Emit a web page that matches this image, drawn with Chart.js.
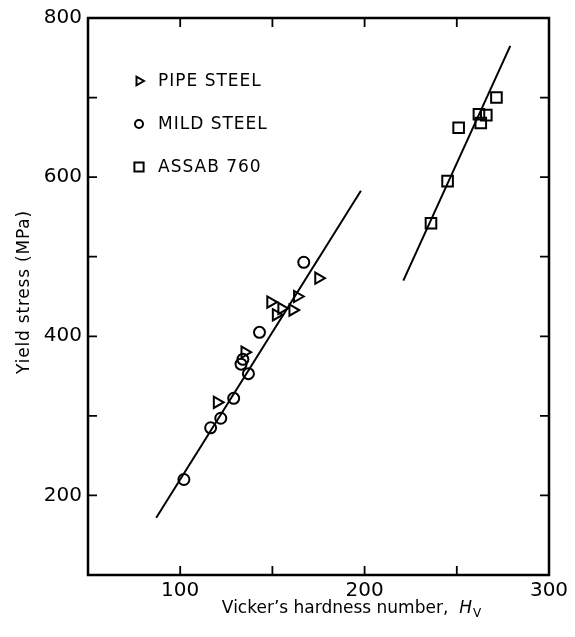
<!DOCTYPE html>
<html>
<head>
<meta charset="utf-8">
<script src="https://cdn.jsdelivr.net/npm/chart.js@4.4.1/dist/chart.umd.min.js"></script>
<style>
  html, body { margin: 0; padding: 0; background: #fff; }
  #wrap { width: 575px; height: 637px; }
</style>
</head>
<body>
<div id="wrap"><canvas id="hardnessChart"></canvas></div>
<script>
// values
const pipeHardness = [175, 163.5, 149, 155, 161, 152, 135, 120];
const pipeStress   = [473, 450, 443, 435, 433, 427, 380, 317];

const mildHardness = [167, 143, 133, 134, 137, 129, 122, 116.5, 102];
const mildStress   = [493, 405, 365, 371, 353, 322, 297, 285, 220];

const assabHardness = [271.5, 262, 266, 263, 251, 245, 236];
const assabStress   = [700, 679, 678, 668, 662, 595, 542];

// fitted lines (end points)
const fitLowHardness  = [87, 198];
const fitLowStress    = [172, 583];
const fitHighHardness = [221, 279];
const fitHighStress   = [470, 765];

const xTickMarks = [100, 150, 200, 250];
const yTickMarks = [200, 300, 400, 500, 600, 700];
const xLabels = [100, 200, 300];
const yLabels = [200, 400, 600, 800];

const legendItems = [
  { text: 'PIPE STEEL', pointStyle: 'triangle', radius: 5, rotation: 90 },
  { text: 'MILD STEEL', pointStyle: 'circle', radius: 4, rotation: 0 },
  { text: 'ASSAB 760', pointStyle: 'rect', radius: 6.5, rotation: 0 }
];

function toPoints(xs, ys) {
  return xs.map((x, i) => ({ x: x, y: ys[i] }));
}

const FONT = '"DejaVu Sans", sans-serif';

const framePlugin = {
  id: 'frame',
  afterDraw(chart) {
    const { ctx, chartArea: a, scales } = chart;
    const x = scales.x, y = scales.y;
    ctx.save();
    ctx.strokeStyle = '#000';
    ctx.lineWidth = 2.5;
    ctx.strokeRect(a.left, a.top, a.right - a.left, a.bottom - a.top);

    // inward ticks on all four sides
    ctx.lineWidth = 1.8;
    ctx.beginPath();
    xTickMarks.forEach(v => {
      const px = x.getPixelForValue(v);
      ctx.moveTo(px, a.bottom); ctx.lineTo(px, a.bottom - 9);
      ctx.moveTo(px, a.top); ctx.lineTo(px, a.top + 9);
    });
    yTickMarks.forEach(v => {
      const py = y.getPixelForValue(v);
      ctx.moveTo(a.left, py); ctx.lineTo(a.left + 9, py);
      ctx.moveTo(a.right, py); ctx.lineTo(a.right - 9, py);
    });
    ctx.stroke();

    // legend inside the plot
    ctx.fillStyle = '#000';
    ctx.textBaseline = 'middle';
    ctx.textAlign = 'left';
    ctx.font = '17px ' + FONT;
    ctx.letterSpacing = '1px';
    const rows = [81, 124, 167];
    legendItems.forEach((item, i) => {
      ctx.save();
      ctx.strokeStyle = '#000';
      ctx.fillStyle = 'rgba(0,0,0,0)';
      ctx.lineWidth = 2;
      Chart.helpers.drawPoint(ctx, {
        pointStyle: item.pointStyle,
        radius: item.radius,
        rotation: item.rotation,
        borderWidth: 2
      }, 139, rows[i]);
      ctx.restore();
      ctx.fillText(item.text, 158, rows[i] + 1);
    });
    ctx.letterSpacing = '0px';

    // y axis title
    ctx.save();
    ctx.translate(25, 292);
    ctx.rotate(-Math.PI / 2);
    ctx.textAlign = 'center';
    ctx.font = '17px ' + FONT;
    ctx.letterSpacing = '0.8px';
    ctx.fillText('Yield stress (MPa)', 0, 0);
    ctx.restore();

    // x axis title with italic H and subscript v
    const main = 'Vicker\u2019s hardness number,  ';
    ctx.font = '17px ' + FONT;
    const w1 = ctx.measureText(main).width;
    ctx.font = 'italic 17px ' + FONT;
    const w2 = ctx.measureText('H').width;
    ctx.font = '12px ' + FONT;
    const w3 = ctx.measureText('V').width;
    let sx = 351 - (w1 + w2 + w3) / 2;
    const base = 613;
    ctx.textBaseline = 'alphabetic';
    ctx.font = '17px ' + FONT;
    ctx.fillText(main, sx, base);
    sx += w1;
    ctx.font = 'italic 17px ' + FONT;
    ctx.fillText('H', sx, base);
    sx += w2 + 1;
    ctx.font = '12px ' + FONT;
    ctx.fillText('V', sx, base + 4);
    ctx.restore();
  }
};

const markerCommon = {
  showLine: false,
  borderColor: '#000',
  backgroundColor: 'rgba(0,0,0,0)',
  pointBorderWidth: 2
};

const lineCommon = {
  showLine: true,
  borderColor: '#000',
  borderWidth: 2,
  pointRadius: 0,
  fill: false
};

new Chart(document.getElementById('hardnessChart'), {
  type: 'scatter',
  data: {
    datasets: [
      Object.assign({ label: 'fit low', data: toPoints(fitLowHardness, fitLowStress) }, lineCommon),
      Object.assign({ label: 'fit high', data: toPoints(fitHighHardness, fitHighStress) }, lineCommon),
      Object.assign({
        label: 'PIPE STEEL',
        data: toPoints(pipeHardness, pipeStress),
        pointStyle: 'triangle',
        pointRotation: 90,
        pointRadius: 6.5
      }, markerCommon),
      Object.assign({
        label: 'MILD STEEL',
        data: toPoints(mildHardness, mildStress),
        pointStyle: 'circle',
        pointRadius: 5.5
      }, markerCommon),
      Object.assign({
        label: 'ASSAB 760',
        data: toPoints(assabHardness, assabStress),
        pointStyle: 'rect',
        pointRadius: 7.5
      }, markerCommon)
    ]
  },
  options: {
    responsive: true,
    maintainAspectRatio: false,
    animation: false,
    layout: { padding: { left: 0, right: 26, top: 14, bottom: 0 } },
    plugins: {
      legend: { display: false },
      tooltip: { enabled: false }
    },
    scales: {
      x: {
        type: 'linear',
        min: 50,
        max: 300,
        grid: { display: false, drawTicks: false },
        border: { display: false },
        ticks: {
          stepSize: 50,
          padding: 4,
          color: '#000',
          font: { family: 'DejaVu Sans', size: 20 },
          callback: v => xLabels.includes(v) ? String(v) : ''
        },
        afterFit: s => { s.height = 62; }
      },
      y: {
        type: 'linear',
        min: 100,
        max: 800,
        grid: { display: false, drawTicks: false },
        border: { display: false },
        ticks: {
          stepSize: 100,
          padding: 6,
          color: '#000',
          font: { family: 'DejaVu Sans', size: 20 },
          callback: v => yLabels.includes(v) ? String(v) : ''
        },
        afterFit: s => { s.width = 88; }
      }
    }
  },
  plugins: [framePlugin]
});
</script>
</body>
</html>
